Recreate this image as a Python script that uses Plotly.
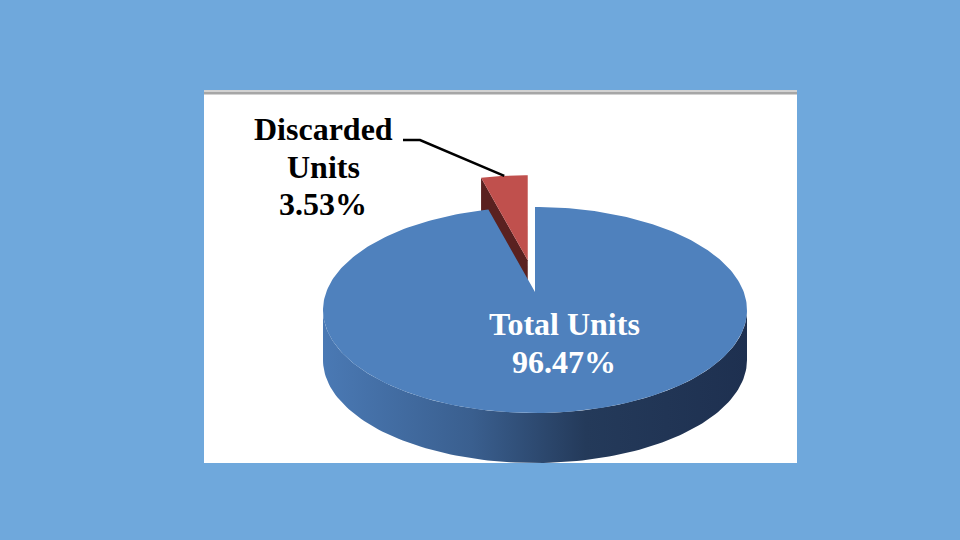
import numpy as np
import plotly.graph_objects as go

# slices, listed counter-clockwise from 12 o'clock
labels = ["Discarded Units", "Total Units"]
shares = [3.53, 96.47]
top_colors = ["#C0504D", "#4F81BD"]
cut_colors = ["#5A2120", "#2E4A72"]
label_lines = [["Discarded", "Units"], ["Total Units"]]
label_colors = ["black", "white"]

# 3-d pie look (pixels on a 960x540 canvas)
cx, cy = 535, 310
rx, ry = 212, 103
apex_dy = -18
depth = 50
explode = [0.31, 0.0]
label_pos = [(323, 129), (564, 324)]
line_gap = 37.5
font = "Liberation Serif, Times New Roman, serif"


def rim(t, dx=0.0, dy=0.0):
    return cx + rx * np.cos(t) + dx, cy - ry * np.sin(t) + dy


def angles():
    out = []
    start = np.pi / 2
    for v in shares:
        end = start + 2 * np.pi * v / 100
        out.append((start, end))
        start = end
    return out


def main() -> None:
    fig = go.Figure()
    spans = angles()

    # exploded red slice: cut face, then top
    for i, (t0, t1) in enumerate(spans):
        if explode[i] == 0:
            continue
        mid = (t0 + t1) / 2
        dx, dy = explode[i] * rx * np.cos(mid), -explode[i] * ry * np.sin(mid)
        ax, ay = cx + dx, cy + apex_dy + dy
        ex, ey = rim(t1, dx, dy)
        fig.add_scatter(x=[ax, ex, ex, ax, ax], y=[ay, ey, ey + depth * 0.8, ay + depth * 0.8, ay],
                        fill="toself", fillcolor=cut_colors[i], mode="lines", line=dict(width=0),
                        hoverinfo="skip", showlegend=False)
        ts = np.linspace(t0, t1, 20)
        px, py = rim(ts, dx, dy)
        fig.add_scatter(x=np.r_[ax, px, ax], y=np.r_[ay, py, ay], fill="toself",
                        fillcolor=top_colors[i], mode="lines", line=dict(width=0),
                        name=labels[i], hoverinfo="name", showlegend=False)
        # leader line to the label
        lx, ly = rim(mid, dx, dy)
        fig.add_scatter(x=[403, 420, lx], y=[140, 140, ly], mode="lines",
                        line=dict(color="black", width=2.5), hoverinfo="skip", showlegend=False)

    # big slice: side wall (front half) and top face
    for i, (t0, t1) in enumerate(spans):
        if explode[i] != 0:
            continue
        ts = np.linspace(np.pi, 2 * np.pi, 120)
        sx, sy = rim(ts)
        fig.add_scatter(x=np.r_[sx, sx[::-1], sx[0]], y=np.r_[sy, sy[::-1] + depth, sy[0]],
                        fill="toself", mode="lines", line=dict(width=0),
                        fillgradient=dict(type="horizontal",
                                          colorscale=[[0, "#4A79B4"], [0.35, "#3A5F8F"],
                                                      [0.62, "#243A5A"], [1, "#1E3050"]]),
                        hoverinfo="skip", showlegend=False)
        ts = np.linspace(t0, t1, 300)
        px, py = rim(ts)
        fig.add_scatter(x=np.r_[cx, px, cx], y=np.r_[cy + apex_dy, py, cy + apex_dy], fill="toself",
                        fillcolor=top_colors[i], mode="lines", line=dict(width=0),
                        name=labels[i], hoverinfo="name", showlegend=False)

    # labels
    for i in range(len(labels)):
        lines = label_lines[i] + [f"{shares[i]:.2f}%"]
        x0, y0 = label_pos[i]
        for k, txt in enumerate(lines):
            fig.add_annotation(x=x0, y=y0 + k * line_gap, text=f"<b>{txt}</b>", showarrow=False,
                               xanchor="center", yanchor="middle",
                               font=dict(family=font, size=32, color=label_colors[i]))

    fig.update_layout(
        width=960, height=540,
        margin=dict(l=0, r=0, t=0, b=0),
        paper_bgcolor="#6FA8DC",
        plot_bgcolor="rgba(0,0,0,0)",
        xaxis=dict(range=[0, 960], visible=False, fixedrange=True),
        yaxis=dict(range=[540, 0], visible=False, fixedrange=True),
        shapes=[
            dict(type="rect", layer="below", x0=204, x1=797, y0=90, y1=463,
                 fillcolor="white", line=dict(width=0)),
            dict(type="rect", layer="below", x0=204, x1=797, y0=90, y1=95,
                 fillcolor="#D2D2D2", line=dict(width=0)),
            dict(type="line", layer="below", x0=204, x1=797, y0=93, y1=93,
                 line=dict(color="#A6A6A6", width=2)),
        ],
    )
    fig.write_html("out.html", config=dict(displayModeBar=False),
                   post_script="document.body.style.margin='0';"
                               "document.body.style.overflow='hidden';")


if __name__ == '__main__':
    main()
